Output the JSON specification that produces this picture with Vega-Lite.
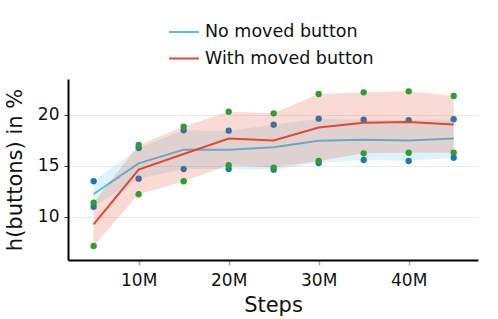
{
  "$schema": "https://vega.github.io/schema/vega-lite/v6.json",
  "width": 410,
  "height": 181,
  "autosize": {"type": "none"},
  "padding": {"left": 68, "top": 79, "right": 20, "bottom": 59},
  "background": "white",
  "config": {
    "font": "DejaVu Sans",
    "view": {"stroke": null},
    "axis": {"labelFont": "DejaVu Sans", "titleFont": "DejaVu Sans", "labelColor": "#111", "titleColor": "#111", "titleFontWeight": "normal"},
    "axisY": {
      "values": [10, 15, 20],
      "labelFontSize": 17, "labelPadding": 5,
      "tickSize": 4, "tickColor": "#333", "tickWidth": 1,
      "domainColor": "#000", "domainWidth": 2,
      "grid": true, "gridColor": "#ebebeb", "gridWidth": 1,
      "titleFontSize": 21, "titlePadding": 12
    },
    "legend": {
      "orient": "none", "legendX": 100, "legendY": -63,
      "title": null, "symbolType": "stroke", "symbolSize": 900, "symbolStrokeWidth": 2,
      "labelFontSize": 17.5, "labelFont": "DejaVu Sans", "labelColor": "#111", "labelLimit": 400,
      "labelOffset": 5, "rowPadding": 1.5, "padding": 0
    }
  },
  "data": {
    "values": [
      {"step": 5000000, "series": "No moved button", "value": 13.5},
      {"step": 5000000, "series": "No moved button", "value": 11.0},
      {"step": 10000000, "series": "No moved button", "value": 16.76},
      {"step": 10000000, "series": "No moved button", "value": 13.76},
      {"step": 15000000, "series": "No moved button", "value": 18.5},
      {"step": 15000000, "series": "No moved button", "value": 14.7},
      {"step": 20000000, "series": "No moved button", "value": 18.46},
      {"step": 20000000, "series": "No moved button", "value": 14.7},
      {"step": 25000000, "series": "No moved button", "value": 19.05},
      {"step": 25000000, "series": "No moved button", "value": 14.64},
      {"step": 30000000, "series": "No moved button", "value": 19.64},
      {"step": 30000000, "series": "No moved button", "value": 15.29},
      {"step": 35000000, "series": "No moved button", "value": 19.54},
      {"step": 35000000, "series": "No moved button", "value": 15.59},
      {"step": 40000000, "series": "No moved button", "value": 19.5},
      {"step": 40000000, "series": "No moved button", "value": 15.49},
      {"step": 45000000, "series": "No moved button", "value": 19.58},
      {"step": 45000000, "series": "No moved button", "value": 15.81},
      {"step": 5000000, "series": "With moved button", "value": 11.4},
      {"step": 5000000, "series": "With moved button", "value": 7.16},
      {"step": 10000000, "series": "With moved button", "value": 17.06},
      {"step": 10000000, "series": "With moved button", "value": 12.23},
      {"step": 15000000, "series": "With moved button", "value": 18.86},
      {"step": 15000000, "series": "With moved button", "value": 13.5},
      {"step": 20000000, "series": "With moved button", "value": 20.32},
      {"step": 20000000, "series": "With moved button", "value": 15.07},
      {"step": 25000000, "series": "With moved button", "value": 20.16},
      {"step": 25000000, "series": "With moved button", "value": 14.84},
      {"step": 30000000, "series": "With moved button", "value": 22.06},
      {"step": 30000000, "series": "With moved button", "value": 15.49},
      {"step": 35000000, "series": "With moved button", "value": 22.22},
      {"step": 35000000, "series": "With moved button", "value": 16.24},
      {"step": 40000000, "series": "With moved button", "value": 22.32},
      {"step": 40000000, "series": "With moved button", "value": 16.3},
      {"step": 45000000, "series": "With moved button", "value": 21.86},
      {"step": 45000000, "series": "With moved button", "value": 16.3}
    ]
  },
  "encoding": {
    "x": {
      "field": "step", "type": "quantitative",
      "scale": {"domain": [2150000, 47700000], "nice": false, "zero": false},
      "axis": {
        "title": "Steps", "titleFontSize": 21, "titlePadding": 6,
        "values": [10000000, 20000000, 30000000, 40000000],
        "labelExpr": "(datum.value/1000000) + 'M'",
        "labelFontSize": 17, "labelPadding": 7,
        "tickSize": 5, "tickColor": "#aaaaaa", "tickWidth": 1.5,
        "domainColor": "#000", "domainWidth": 2,
        "grid": false
      }
    }
  },
  "layer": [
    {
      "transform": [{"filter": "datum.series === 'No moved button'"}],
      "mark": {"type": "area", "color": "#4ec0e4", "opacity": 0.18},
      "encoding": {
        "y": {"aggregate": "min", "field": "value", "type": "quantitative", "title": "h(buttons) in %", "scale": {"domain": [5.78, 23.53], "nice": false, "zero": false}},
        "y2": {"aggregate": "max", "field": "value"}
      }
    },
    {
      "transform": [{"filter": "datum.series === 'No moved button'"}],
      "mark": {"type": "line", "strokeWidth": 2},
      "encoding": {
        "y": {"aggregate": "mean", "field": "value", "type": "quantitative", "title": "h(buttons) in %", "scale": {"domain": [5.78, 23.53], "nice": false, "zero": false}},
        "color": {"field": "series", "type": "nominal", "scale": {"domain": ["No moved button", "With moved button"], "range": ["#4ec0e4", "#e6452e"]}}
      }
    },
    {
      "transform": [{"filter": "datum.series === 'No moved button'"}],
      "mark": {"type": "circle", "color": "#1f77b4", "opacity": 1, "size": 40},
      "encoding": {
        "y": {"field": "value", "type": "quantitative", "title": "h(buttons) in %", "scale": {"domain": [5.78, 23.53], "nice": false, "zero": false}}
      }
    },
    {
      "transform": [{"filter": "datum.series === 'With moved button'"}],
      "mark": {"type": "area", "color": "#e6452e", "opacity": 0.2},
      "encoding": {
        "y": {"aggregate": "min", "field": "value", "type": "quantitative", "title": "h(buttons) in %", "scale": {"domain": [5.78, 23.53], "nice": false, "zero": false}},
        "y2": {"aggregate": "max", "field": "value"}
      }
    },
    {
      "transform": [{"filter": "datum.series === 'With moved button'"}],
      "mark": {"type": "line", "strokeWidth": 2},
      "encoding": {
        "y": {"aggregate": "mean", "field": "value", "type": "quantitative", "title": "h(buttons) in %", "scale": {"domain": [5.78, 23.53], "nice": false, "zero": false}},
        "color": {"field": "series", "type": "nominal", "scale": {"domain": ["No moved button", "With moved button"], "range": ["#4ec0e4", "#e6452e"]}}
      }
    },
    {
      "transform": [{"filter": "datum.series === 'With moved button'"}],
      "mark": {"type": "circle", "color": "#2ca02c", "opacity": 1, "size": 40},
      "encoding": {
        "y": {"field": "value", "type": "quantitative", "title": "h(buttons) in %", "scale": {"domain": [5.78, 23.53], "nice": false, "zero": false}}
      }
    }
  ]
}
